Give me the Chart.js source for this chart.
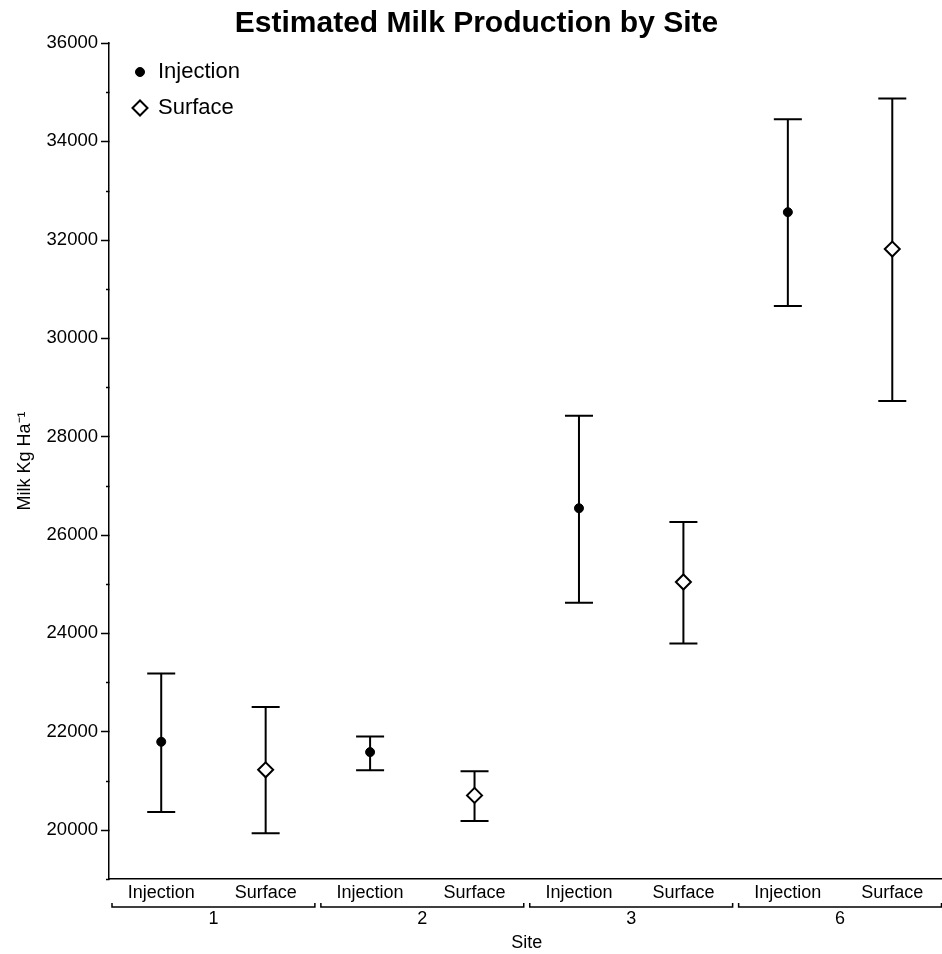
<!DOCTYPE html>
<html>
<head>
<meta charset="utf-8">
<title>Estimated Milk Production by Site</title>
<script src="https://cdn.jsdelivr.net/npm/chart.js@4/dist/chart.umd.min.js"></script>
<style>
  html, body { margin: 0; padding: 0; overflow: hidden; background: #fff; }
  #wrap { width: 954px; height: 954px; position: relative; }
</style>
</head>
<body>
<div id="wrap"><canvas id="milkChart"></canvas></div>
<script>
// values
const sites = ['1', '2', '3', '6'];
const methods = ['Injection', 'Surface'];

const injectionMean = [21790, 21580, 26540, 32560];
const injectionLow = [20360, 21210, 24620, 30650];
const injectionHigh = [23180, 21900, 28420, 34450];

const surfaceMean = [21220, 20700, 25040, 31810];
const surfaceLow = [19930, 20180, 23790, 28720];
const surfaceHigh = [22500, 21190, 26260, 34870];

const yMin = 19000;
const yMax = 36000;
const yStep = 1000;
const yLabelStep = 2000;

const fontFamily = '"Liberation Sans", Arial, Helvetica, sans-serif';

// one category per site/method pair, each series only fills its own slots
const categories = sites.flatMap(() => methods);
const spread = (arr, slot) => sites.flatMap((s, i) => (slot === 0 ? [arr[i], null] : [null, arr[i]]));
const isLabelled = (v) => Math.abs(Math.round(v) % yLabelStep) === 0;

const errorBars = {
  id: 'errorBars',
  beforeDatasetsDraw(chart) {
    const { ctx, scales: { x, y } } = chart;
    const cap = 14;
    ctx.save();
    ctx.strokeStyle = '#000';
    ctx.lineWidth = 2;
    chart.data.datasets.forEach((ds) => {
      ds.errLow.forEach((lo, i) => {
        const hi = ds.errHigh[i];
        if (lo == null || hi == null) return;
        const px = x.getPixelForValue(i);
        const yl = y.getPixelForValue(lo);
        const yh = y.getPixelForValue(hi);
        ctx.beginPath();
        ctx.moveTo(px, yl);
        ctx.lineTo(px, yh);
        ctx.moveTo(px - cap, yl);
        ctx.lineTo(px + cap, yl);
        ctx.moveTo(px - cap, yh);
        ctx.lineTo(px + cap, yh);
        ctx.stroke();
      });
    });
    ctx.restore();
  },
};

const axisExtras = {
  id: 'axisExtras',
  afterDraw(chart) {
    const { ctx, scales: { x, y }, chartArea } = chart;
    ctx.save();
    ctx.strokeStyle = '#000';
    ctx.fillStyle = '#000';
    ctx.lineWidth = 1.5;

    // major and minor ticks on the value axis
    for (let v = yMin; v <= yMax; v += yStep) {
      const len = isLabelled(v) ? 8 : 3;
      const py = Math.round(y.getPixelForValue(v)) + 0.5;
      ctx.beginPath();
      ctx.moveTo(chartArea.left - len, py);
      ctx.lineTo(chartArea.left + 0.5, py);
      ctx.stroke();
    }

    // site brackets under the method labels
    const half = (x.getPixelForValue(1) - x.getPixelForValue(0)) / 2;
    const by = x.top + 28;
    ctx.font = `18px ${fontFamily}`;
    ctx.textAlign = 'center';
    ctx.textBaseline = 'middle';
    sites.forEach((site, g) => {
      const left = x.getPixelForValue(g * 2) - half + 3;
      const right = x.getPixelForValue(g * 2 + 1) + half - 3;
      ctx.beginPath();
      ctx.moveTo(left, by - 4);
      ctx.lineTo(left, by);
      ctx.lineTo(right, by);
      ctx.lineTo(right, by - 4);
      ctx.stroke();
      ctx.fillText(site, (left + right) / 2, by + 12);
    });

    // legend inside the plot, top left
    const lx = chartArea.left + 31;
    let ly = chartArea.top + 29;
    ctx.font = `22px ${fontFamily}`;
    ctx.textAlign = 'left';
    chart.data.datasets.forEach((ds) => {
      ctx.fillStyle = ds.backgroundColor;
      ctx.strokeStyle = ds.borderColor;
      ctx.lineWidth = ds.borderWidth;
      Chart.helpers.drawPoint(ctx, {
        pointStyle: ds.pointStyle,
        radius: ds.pointRadius,
        rotation: 0,
        borderWidth: ds.borderWidth,
      }, lx, ly);
      ctx.fillStyle = '#000';
      ctx.fillText(ds.label, lx + 18, ly);
      ly += 36;
    });
    ctx.restore();
  },
};

document.addEventListener('DOMContentLoaded', () => {
  const el = document.getElementById('milkChart');
  new Chart(el.getContext('2d'), {
    type: 'line',
    data: {
      labels: categories,
      datasets: [
        {
          label: 'Injection',
          data: spread(injectionMean, 0),
          errLow: spread(injectionLow, 0),
          errHigh: spread(injectionHigh, 0),
          showLine: false,
          pointStyle: 'circle',
          pointRadius: 4.5,
          backgroundColor: '#000',
          borderColor: '#000',
          borderWidth: 1,
        },
        {
          label: 'Surface',
          data: spread(surfaceMean, 1),
          errLow: spread(surfaceLow, 1),
          errHigh: spread(surfaceHigh, 1),
          showLine: false,
          pointStyle: 'rectRot',
          pointRadius: 7.5,
          backgroundColor: '#fff',
          borderColor: '#000',
          borderWidth: 2,
        },
      ],
    },
    options: {
      responsive: true,
      maintainAspectRatio: false,
      animation: false,
      layout: { padding: { left: 0, right: 1, top: 0, bottom: 0 } },
      plugins: {
        legend: { display: false },
        tooltip: { enabled: false },
        title: {
          display: true,
          text: 'Estimated Milk Production by Site',
          color: '#000',
          font: { family: fontFamily, size: 30, weight: 'bold' },
          padding: { top: 6, bottom: 1 },
        },
      },
      scales: {
        x: {
          type: 'category',
          offset: true,
          afterFit: (scale) => { scale.height = 75; },
          grid: { drawOnChartArea: false, drawTicks: false },
          border: { display: true, color: '#000', width: 1.5 },
          ticks: { color: '#000', padding: 3, font: { family: fontFamily, size: 18 }, autoSkip: false, maxRotation: 0 },
          title: {
            display: true,
            text: 'Site',
            color: '#000',
            font: { family: fontFamily, size: 18 },
            padding: { top: 0, bottom: 0 },
          },
        },
        y: {
          min: yMin,
          max: yMax,
          afterFit: (scale) => { scale.width = 109; },
          grid: { drawOnChartArea: false, drawTicks: false },
          border: { display: true, color: '#000', width: 1.5 },
          ticks: {
            stepSize: yStep,
            autoSkip: false,
            color: '#000',
            padding: 11,
            font: { family: fontFamily, size: 18.5 },
            callback: (v) => (isLabelled(v) ? String(v) : ''),
          },
          title: {
            display: true,
            text: 'Milk Kg Ha⁻¹',
            color: '#000',
            font: { family: fontFamily, size: 18 },
            padding: { top: 14, bottom: 0 },
          },
        },
      },
    },
    plugins: [errorBars, axisExtras],
  });
});
</script>
</body>
</html>
